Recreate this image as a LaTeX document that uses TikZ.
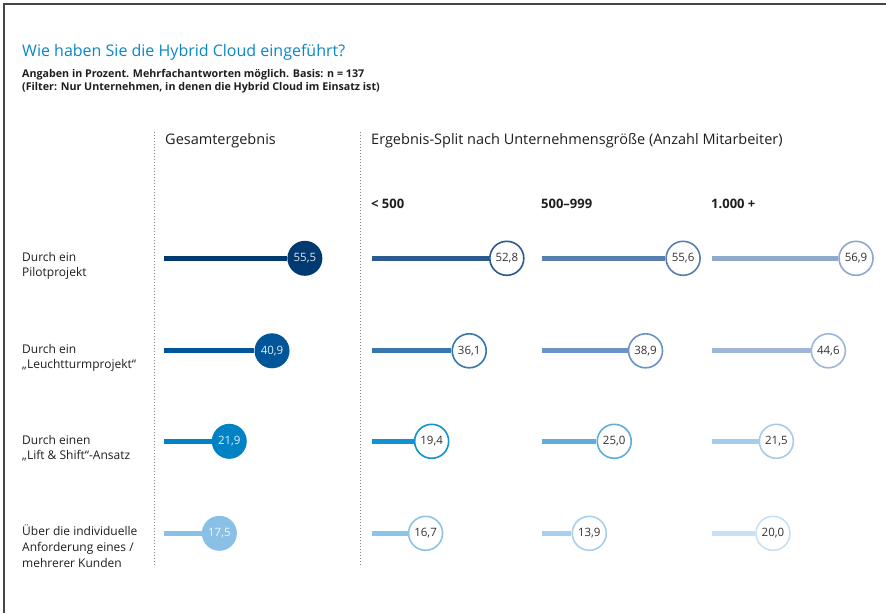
\documentclass[tikz,border=0pt]{standalone}
\usepackage{fontspec}
\setmainfont{Open Sans}
\definecolor{titleblue}{RGB}{10,134,200}
\definecolor{txt}{RGB}{30,30,30}
\definecolor{valtxt}{RGB}{50,50,50}
\definecolor{frame}{RGB}{70,70,70}
\definecolor{dotc}{RGB}{130,130,130}
% Gesamt
\definecolor{ga}{RGB}{0,58,112}
\definecolor{gb}{RGB}{0,86,152}
\definecolor{gc}{RGB}{0,130,196}
\definecolor{gd}{RGB}{138,192,230}
% < 500
\definecolor{aa}{RGB}{42,90,144}
\definecolor{ab}{RGB}{56,118,174}
\definecolor{ac}{RGB}{18,146,208}
\definecolor{ad}{RGB}{140,196,232}
% 500-999
\definecolor{ba}{RGB}{88,126,176}
\definecolor{bb}{RGB}{106,146,196}
\definecolor{bc}{RGB}{96,172,222}
\definecolor{bd}{RGB}{168,208,238}
% 1000+
\definecolor{ca}{RGB}{144,168,204}
\definecolor{cb}{RGB}{158,182,218}
\definecolor{cc}{RGB}{164,204,236}
\definecolor{cd}{RGB}{200,224,244}
\tikzset{
  titletext/.style={anchor=base west,inner sep=0,text=titleblue,font=\fontsize{16}{19}\selectfont},
  subtext/.style={anchor=base west,inner sep=0,text=txt,font=\bfseries\fontsize{10.7}{12}\selectfont},
  headtext/.style={anchor=base west,inner sep=0,text=txt,font=\fontsize{14.5}{17}\selectfont},
  grouptext/.style={anchor=base west,inner sep=0,text=txt,font=\bfseries\fontsize{13}{15}\selectfont},
  rowtext/.style={anchor=base west,inner sep=0,text=txt,font=\fontsize{12}{14}\selectfont},
  dotline/.style={draw=dotc,line width=1pt,dotted},
  bar/.style={line width=5pt},
  fullball/.style={circle,minimum size=35pt,inner sep=0,fill=#1,text=white!88!#1,font=\fontsize{11.5}{13}\selectfont},
  ringball/.style={circle,minimum size=34pt,inner sep=0,fill=white,draw=#1,line width=1.6pt,text=valtxt,font=\fontsize{11.5}{13}\selectfont},
}
\begin{document}
\begin{tikzpicture}[x=1pt,y=-1pt]
\useasboundingbox (0,0) rectangle (886,613);
\coordinate (fr1) at (886,4);
\coordinate (fr2) at (4,4);
\coordinate (fr3) at (4,613);
\draw[frame,line width=1.5pt] (fr1) -- (fr2) -- (fr3);

\node[titletext] (title) at (22,56.5) {Wie haben Sie die Hybrid Cloud eingeführt?};
\node[subtext] (sub1) at (22,77.5) {Angaben in Prozent. Mehrfachantworten möglich. Basis: n = 137};
\node[subtext] (sub2) at (22,90.5) {(Filter: Nur Unternehmen, in denen die Hybrid Cloud im Einsatz ist)};

\coordinate (d1t) at (154,132); \coordinate (d1b) at (154,567);
\coordinate (d2t) at (360,132); \coordinate (d2b) at (360,567);
\draw[dotline] (d1t) -- (d1b);
\draw[dotline] (d2t) -- (d2b);

\node[headtext] (hg) at (165,144) {Gesamtergebnis};
\node[headtext] (hs) at (371,144) {Ergebnis-Split nach Unternehmensgröße (Anzahl Mitarbeiter)};
\node[grouptext] (g1) at (371,208.5) {< 500};
\node[grouptext] (g2) at (541,208.5) {500–999};
\node[grouptext] (g3) at (711,208.5) {1.000 +};

\node[rowtext] (r1a) at (22,261) {Durch ein};
\node[rowtext] (r1b) at (22,276) {Pilotprojekt};
\node[rowtext] (r2a) at (22,353.5) {Durch ein};
\node[rowtext] (r2b) at (22,368.5) {„Leuchtturmprojekt“};
\node[rowtext] (r3a) at (22,444.5) {Durch einen};
\node[rowtext] (r3b) at (22,459.5) {„Lift \& Shift“-Ansatz};
\node[rowtext] (r4a) at (22,535.5) {Über die individuelle};
\node[rowtext] (r4b) at (22,551.5) {Anforderung eines /};
\node[rowtext] (r4c) at (22,567.5) {mehrerer Kunden};

\foreach \row/\yy in {1/258.3,2/350.8,3/441.3,4/533.3}{
  \coordinate (gs\row) at (164,\yy);
  \coordinate (as\row) at (372,\yy);
  \coordinate (bs\row) at (542,\yy);
  \coordinate (cs\row) at (712,\yy);
}
% Gesamt
\foreach \row/\v/\lab/\col in {1/55.5/{55,5}/ga,2/40.9/{40,9}/gb,3/21.9/{21,9}/gc,4/17.5/{17,5}/gd}{
  \node[fullball=\col] (gv\row) at ([xshift=16pt+2.25*\v pt]gs\row) {\lab};
  \draw[bar,\col] (gs\row) -- (gv\row.west);
}
\foreach \grp/\row/\v/\lab/\col in {
  a/1/52.8/{52,8}/aa, a/2/36.1/{36,1}/ab, a/3/19.4/{19,4}/ac, a/4/16.7/{16,7}/ad,
  b/1/55.6/{55,6}/ba, b/2/38.9/{38,9}/bb, b/3/25.0/{25,0}/bc, b/4/13.9/{13,9}/bd,
  c/1/56.9/{56,9}/ca, c/2/44.6/{44,6}/cb, c/3/21.5/{21,5}/cc, c/4/20.0/{20,0}/cd}{
  \node[ringball=\col] (\grp v\row) at ([xshift=16pt+2.25*\v pt]\grp s\row) {\lab};
  \draw[bar,\col] (\grp s\row) -- (\grp v\row.west);
}
\end{tikzpicture}
\end{document}
